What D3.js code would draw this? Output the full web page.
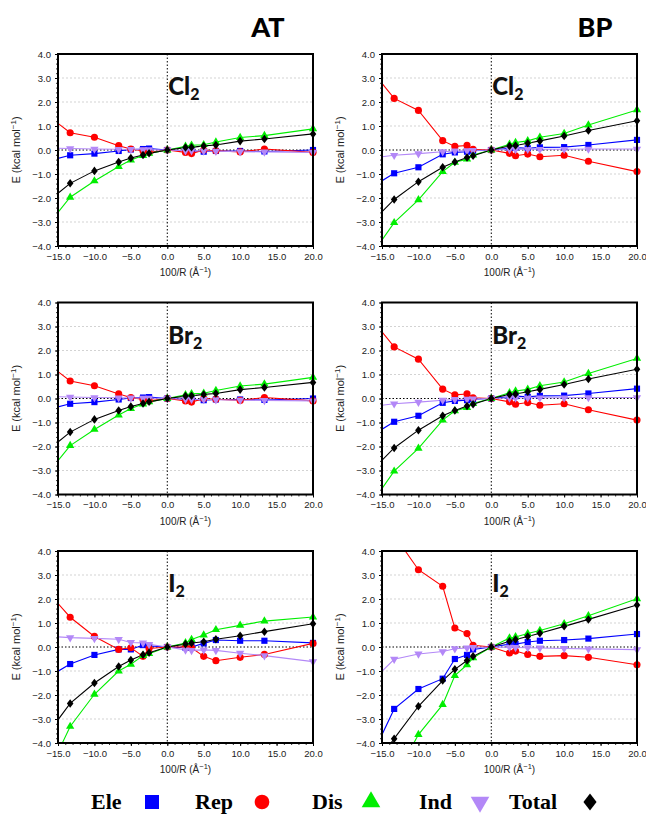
<!DOCTYPE html>
<html>
<head>
<meta charset="utf-8">
<script src="https://cdn.jsdelivr.net/npm/d3@7"></script>
<style>
  html, body { margin: 0; padding: 0; background: #fff; }
  svg { display: block; }
</style>
</head>
<body>
<svg id="chart" width="646" height="818"></svg>
<script>
// ---------------- DATA ----------------
const xValues = [-20, -13.33, -10, -6.67, -5, -3.33, -2.5, 0, 2.5, 3.33, 5, 6.67, 10, 13.33, 20];
const xTicks = [-15, -10, -5, 0, 5, 10, 15, 20];
const yTicks = [-4, -3, -2, -1, 0, 1, 2, 3, 4];
const columnTitles = ["AT", "BP"];
const moleculeLabels = [["Cl", "2"], ["Br", "2"], ["I", "2"]];
const seriesNames = ["Ele", "Rep", "Dis", "Ind", "Total"];

const AT_Cl2_Ele = [-0.74, -0.22, -0.15, -0.04, 0.02, 0.04, 0.06, 0, -0.03, -0.03, -0.07, -0.04, -0.04, -0.06, 0.0];
const AT_Cl2_Rep = [2.28, 0.72, 0.53, 0.18, 0.04, -0.04, -0.10, 0, -0.10, -0.15, 0.0, -0.03, -0.08, 0.04, -0.10];
const AT_Cl2_Dis = [-4.49, -1.97, -1.29, -0.69, -0.42, -0.23, -0.14, 0, 0.15, 0.20, 0.22, 0.33, 0.52, 0.60, 0.88];
const AT_Cl2_Ind = [0.10, 0.06, 0.04, 0.03, 0.02, 0.01, 0.01, 0, -0.03, -0.03, -0.04, -0.05, -0.07, -0.08, -0.10];
const AT_Cl2_Tot = [-3.03, -1.39, -0.87, -0.50, -0.33, -0.21, -0.14, 0, 0.10, 0.11, 0.17, 0.21, 0.37, 0.46, 0.67];

const AT_Br2_Ele = [-0.74, -0.22, -0.15, -0.04, 0.02, 0.04, 0.06, 0, -0.03, -0.03, -0.07, -0.04, -0.04, -0.06, 0.0];
const AT_Br2_Rep = [2.28, 0.73, 0.53, 0.19, 0.04, -0.04, -0.10, 0, -0.10, -0.15, 0.0, -0.03, -0.08, 0.04, -0.10];
const AT_Br2_Dis = [-4.49, -1.96, -1.29, -0.69, -0.42, -0.23, -0.14, 0, 0.15, 0.20, 0.22, 0.33, 0.52, 0.60, 0.88];
const AT_Br2_Ind = [0.10, 0.06, 0.04, 0.03, 0.02, 0.01, 0.01, 0, -0.03, -0.03, -0.04, -0.05, -0.07, -0.08, -0.10];
const AT_Br2_Tot = [-3.05, -1.40, -0.87, -0.50, -0.33, -0.21, -0.14, 0, 0.10, 0.11, 0.17, 0.21, 0.37, 0.46, 0.67];

const AT_I2_Ele = [-1.91, -0.71, -0.33, -0.10, -0.10, 0.08, 0.04, 0, -0.03, 0.0, 0.15, 0.29, 0.26, 0.26, 0.17];
const AT_I2_Rep = [3.52, 1.24, 0.44, -0.10, -0.03, -0.39, -0.06, 0, 0.0, -0.03, -0.39, -0.57, -0.43, -0.31, 0.15];
const AT_I2_Dis = [-7.6, -3.31, -1.97, -1.00, -0.72, -0.36, -0.28, 0, 0.17, 0.31, 0.50, 0.72, 0.90, 1.08, 1.25];
const AT_I2_Ind = [0.51, 0.39, 0.36, 0.32, 0.19, 0.17, 0.11, 0, -0.12, -0.14, -0.12, -0.14, -0.26, -0.36, -0.61];
const AT_I2_Tot = [-5.07, -2.35, -1.50, -0.81, -0.54, -0.32, -0.24, 0, 0.12, 0.17, 0.22, 0.32, 0.47, 0.64, 0.97];

const BP_Cl2_Ele = [-2.21, -0.97, -0.72, -0.18, -0.10, -0.07, -0.03, 0, 0.07, 0.10, 0.07, 0.11, 0.12, 0.21, 0.42];
const BP_Cl2_Rep = [4.67, 2.15, 1.65, 0.39, 0.15, 0.19, 0.03, 0, -0.14, -0.24, -0.17, -0.28, -0.22, -0.47, -0.90];
const BP_Cl2_Dis = [-5.91, -3.03, -2.08, -0.90, -0.51, -0.38, -0.21, 0, 0.24, 0.31, 0.38, 0.53, 0.69, 1.04, 1.67];
const BP_Cl2_Ind = [-0.46, -0.22, -0.15, -0.07, -0.04, -0.03, -0.02, 0, 0.02, 0.02, 0.03, 0.03, 0.03, 0.04, 0.04];
const BP_Cl2_Tot = [-4.10, -2.06, -1.32, -0.72, -0.50, -0.31, -0.24, 0, 0.17, 0.19, 0.28, 0.38, 0.58, 0.81, 1.22];

const BP_Br2_Ele = [-2.21, -0.97, -0.72, -0.18, -0.10, -0.07, -0.03, 0, 0.07, 0.10, 0.07, 0.11, 0.12, 0.21, 0.41];
const BP_Br2_Rep = [4.67, 2.15, 1.64, 0.39, 0.15, 0.19, 0.03, 0, -0.14, -0.24, -0.17, -0.28, -0.22, -0.47, -0.90];
const BP_Br2_Dis = [-5.91, -3.03, -2.08, -0.90, -0.51, -0.38, -0.21, 0, 0.24, 0.31, 0.38, 0.53, 0.69, 1.04, 1.67];
const BP_Br2_Ind = [-0.46, -0.22, -0.15, -0.07, -0.04, -0.03, -0.02, 0, 0.02, 0.02, 0.03, 0.03, 0.03, 0.04, 0.04];
const BP_Br2_Tot = [-4.10, -2.06, -1.32, -0.72, -0.50, -0.31, -0.24, 0, 0.17, 0.19, 0.28, 0.38, 0.58, 0.81, 1.22];

const BP_I2_Ele = [-6.86, -2.58, -1.75, -1.32, -0.50, -0.33, -0.10, 0, 0.12, 0.12, 0.21, 0.26, 0.29, 0.35, 0.54];
const BP_I2_Rep = [7.5, 4.66, 3.22, 2.53, 0.79, 0.56, 0.07, 0, -0.25, -0.17, -0.31, -0.39, -0.36, -0.43, -0.74];
const BP_I2_Dis = [-9.0, -5.5, -3.65, -2.40, -1.19, -0.74, -0.45, 0, 0.37, 0.42, 0.56, 0.69, 0.97, 1.30, 2.01];
const BP_I2_Ind = [-2.51, -0.51, -0.29, -0.19, -0.07, -0.04, -0.02, 0, -0.01, -0.02, -0.03, -0.04, -0.06, -0.08, -0.11];
const BP_I2_Tot = [-6.6, -3.82, -2.47, -1.40, -0.93, -0.56, -0.39, 0, 0.24, 0.31, 0.44, 0.57, 0.86, 1.15, 1.75];

// panels[row][col]
const panels = [
  [[AT_Cl2_Ele, AT_Cl2_Rep, AT_Cl2_Dis, AT_Cl2_Ind, AT_Cl2_Tot], [BP_Cl2_Ele, BP_Cl2_Rep, BP_Cl2_Dis, BP_Cl2_Ind, BP_Cl2_Tot]],
  [[AT_Br2_Ele, AT_Br2_Rep, AT_Br2_Dis, AT_Br2_Ind, AT_Br2_Tot], [BP_Br2_Ele, BP_Br2_Rep, BP_Br2_Dis, BP_Br2_Ind, BP_Br2_Tot]],
  [[AT_I2_Ele, AT_I2_Rep, AT_I2_Dis, AT_I2_Ind, AT_I2_Tot], [BP_I2_Ele, BP_I2_Rep, BP_I2_Dis, BP_I2_Ind, BP_I2_Tot]]
];

// ---------------- STYLE / LAYOUT ----------------
const colors = ["#0000ff", "#ff0000", "#00ee00", "#b388f7", "#000000"];
const triDown = {
  draw(ctx, size) {
    const h = Math.sqrt(size * 4 / Math.sqrt(3));
    const r = h / Math.sqrt(3);
    ctx.moveTo(0, r);
    ctx.lineTo(h / 2, -r / 2);
    ctx.lineTo(-h / 2, -r / 2);
    ctx.closePath();
  }
};
const diamond = {
  draw(ctx, size) {
    const a = Math.sqrt(size / 2);
    const w = a * 0.85, hgt = a * 1.1;
    ctx.moveTo(0, -hgt);
    ctx.lineTo(w, 0);
    ctx.lineTo(0, hgt);
    ctx.lineTo(-w, 0);
    ctx.closePath();
  }
};
const symbolTypes = [d3.symbolSquare, d3.symbolCircle, d3.symbolTriangle, triDown, diamond];
const symbolSizes = [38, 40, 30, 30, 30];

const colX = [58, 382];
const rowY = [54, 302.5, 551];
const pw = 255, ph = 192;
const tickFont = "'Liberation Sans', Arial, sans-serif";

const svg = d3.select("#chart");
const defs = svg.append("defs");

const x = d3.scaleLinear().domain([-15, 20]).range([0, pw]);
const y = d3.scaleLinear().domain([-4, 4]).range([ph, 0]);
const fmt = v => (v < 0 ? "\u2212" : "") + Math.abs(v).toFixed(1);

// column titles
columnTitles.forEach((t, c) => {
  svg.append("text")
    .attr("x", c === 0 ? 268 : 595).attr("y", 37)
    .attr("text-anchor", "middle")
    .attr("font-family", "Lato, 'Open Sans', sans-serif")
    .attr("font-weight", 900).attr("font-size", 27)
    .text(t);
});

panels.forEach((rowData, r) => {
  rowData.forEach((seriesList, c) => {
    const g = svg.append("g").attr("transform", `translate(${colX[c]},${rowY[r]})`);
    const clipId = `clip-${r}-${c}`;
    defs.append("clipPath").attr("id", clipId)
      .append("rect").attr("x", 0).attr("y", 0).attr("width", pw).attr("height", ph);

    // grid lines
    g.append("g").selectAll("line").data(yTicks.filter(v => v !== 0 && v !== 4 && v !== -4)).join("line")
      .attr("x1", 0).attr("x2", pw)
      .attr("y1", d => y(d)).attr("y2", d => y(d))
      .attr("stroke", "#c8c8c8").attr("stroke-width", 0.8).attr("stroke-dasharray", "2,2");
    // zero lines
    g.append("line").attr("x1", 0).attr("x2", pw).attr("y1", y(0)).attr("y2", y(0))
      .attr("stroke", "#000").attr("stroke-width", 1).attr("stroke-dasharray", "1.5,2");
    g.append("line").attr("x1", x(0)).attr("x2", x(0)).attr("y1", 0).attr("y2", ph)
      .attr("stroke", "#000").attr("stroke-width", 1).attr("stroke-dasharray", "1.5,2");

    // y axis
    const yAxis = d3.axisLeft(y).tickValues(yTicks).tickFormat(fmt).tickSize(3).tickPadding(4);
    const ya = g.append("g").call(yAxis);
    ya.select(".domain").remove();
    ya.selectAll("text").attr("font-family", tickFont).attr("font-size", 9.5).attr("fill", "#222");
    ya.selectAll("line").attr("stroke", "#000");
    const yMinor = d3.range(-4, 4.001, 0.2).map(v => +v.toFixed(2));
    g.append("g").call(d3.axisLeft(y).tickValues(yMinor).tickFormat("").tickSize(2))
      .call(s => s.select(".domain").remove())
      .selectAll("line").attr("stroke", "#000").attr("stroke-width", 0.8);

    // x axis
    const xa = g.append("g").attr("transform", `translate(0,${ph})`)
      .call(d3.axisBottom(x).tickValues(xTicks).tickFormat(fmt).tickSize(3).tickPadding(4));
    xa.select(".domain").remove();
    xa.selectAll("text").attr("font-family", tickFont).attr("font-size", 9.5).attr("fill", "#222");
    xa.selectAll("line").attr("stroke", "#000");
    g.append("g").attr("transform", `translate(0,${ph})`)
      .call(d3.axisBottom(x).tickValues(d3.range(-15, 20.001, 1)).tickFormat("").tickSize(2))
      .call(s => s.select(".domain").remove())
      .selectAll("line").attr("stroke", "#000").attr("stroke-width", 0.8);

    // axis titles
    g.append("text")
      .attr("transform", `translate(${-38},${ph / 2}) rotate(-90)`)
      .attr("text-anchor", "middle")
      .attr("font-family", tickFont).attr("font-size", 11).attr("fill", "#222")
      .call(t => {
        t.append("tspan").text("E (kcal mol");
        t.append("tspan").attr("dy", -4).attr("font-size", 8).text("\u22121");
        t.append("tspan").attr("dy", 4).text(")");
      });
    g.append("text")
      .attr("x", pw / 2).attr("y", ph + 30)
      .attr("text-anchor", "middle")
      .attr("font-family", tickFont).attr("font-size", 10).attr("fill", "#222")
      .call(t => {
        t.append("tspan").text("100/R (\u00c5");
        t.append("tspan").attr("dy", -4).attr("font-size", 7.5).text("\u22121");
        t.append("tspan").attr("dy", 4).text(")");
      });

    // series
    const plot = g.append("g");
    const lineGen = d3.line().x((d, i) => x(xValues[i])).y(d => y(d));
    seriesList.forEach((vals, s) => {
      plot.append("path").datum(vals)
        .attr("clip-path", `url(#${clipId})`)
        .attr("d", lineGen)
        .attr("fill", "none").attr("stroke", colors[s]).attr("stroke-width", 1.1);
    });
    seriesList.forEach((vals, s) => {
      const pts = vals.map((v, i) => [xValues[i], v]).filter(p => p[0] >= -15 && p[0] <= 20 && p[1] >= -4 && p[1] <= 4);
      plot.append("g").selectAll("path").data(pts).join("path")
        .attr("transform", p => `translate(${x(p[0])},${y(p[1])})`)
        .attr("d", d3.symbol().type(symbolTypes[s]).size(symbolSizes[s]))
        .attr("fill", colors[s]);
    });

    // frame
    g.append("rect").attr("x", 0).attr("y", 0).attr("width", pw).attr("height", ph)
      .attr("fill", "none").attr("stroke", "#000").attr("stroke-width", 2);

    // molecule label
    const lab = moleculeLabels[r];
    g.append("text")
      .attr("x", x(0) + 1).attr("y", 41)
      .attr("font-family", "Lato, 'Open Sans', sans-serif").attr("font-weight", 900)
      .attr("font-size", 24).attr("fill", "#111")
      .call(t => {
        t.append("tspan").text(lab[0]);
        t.append("tspan").attr("dy", 5).attr("font-size", 16).text(lab[1]);
      });
  });
});

// legend
const legendItems = [
  { name: seriesNames[0], tx: 91, mx: 152 },
  { name: seriesNames[1], tx: 195, mx: 262 },
  { name: seriesNames[2], tx: 312, mx: 371 },
  { name: seriesNames[3], tx: 419, mx: 480 },
  { name: seriesNames[4], tx: 509, mx: 590 }
];
const legendSizes = [196, 170, 150, 150, 120];
const lg = svg.append("g");
legendItems.forEach((it, i) => {
  lg.append("text").attr("x", it.tx).attr("y", 809)
    .attr("font-family", "'Liberation Serif', 'Times New Roman', serif")
    .attr("font-weight", 700).attr("font-size", 22).attr("fill", "#000")
    .text(it.name);
  lg.append("path")
    .attr("transform", `translate(${it.mx},${802})`)
    .attr("d", d3.symbol().type(symbolTypes[i]).size(legendSizes[i]))
    .attr("fill", colors[i]);
});
</script>
</body>
</html>
